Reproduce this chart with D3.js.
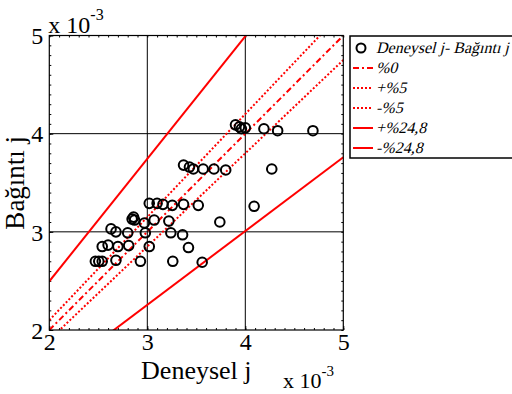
<!DOCTYPE html>
<html>
<head>
<meta charset="utf-8">
<script src="https://cdn.jsdelivr.net/npm/d3@7"></script>
<style>
  body { margin: 0; background: #fff; }
  svg { display: block; }
  text { font-family: "Liberation Serif", "Times New Roman", serif; fill: #000; }
</style>
</head>
<body>
<svg id="chart" width="512" height="394"></svg>
<script>
// Measured j (x) against correlation j (y), both in units of 10^-3
const deneysel = [
  2.47, 2.505, 2.54, 2.68, 2.93, 3.26, 3.56,
  2.54, 2.60, 2.70, 2.81, 3.02, 3.42,
  2.63, 2.68, 2.80, 2.98, 3.24, 3.36,
  2.86, 2.845, 2.87, 2.97, 3.07, 3.22, 3.74,
  3.02, 3.10, 3.16, 3.255, 3.37, 3.52, 4.09,
  3.37, 3.43, 3.47, 3.57, 3.68, 3.80, 4.27,
  3.90, 3.94, 3.96, 4.00, 4.19, 4.33, 4.69
];
const bagintiJ = [
  2.70, 2.70, 2.70, 2.71, 2.70, 2.70, 2.69,
  2.85, 2.865, 2.85, 2.86, 2.85, 2.84,
  3.03, 3.00, 2.99, 2.99, 2.99, 2.97,
  3.15, 3.13, 3.12, 3.09, 3.12, 3.11, 3.10,
  3.29, 3.29, 3.28, 3.27, 3.28, 3.27, 3.26,
  3.68, 3.66, 3.64, 3.64, 3.64, 3.63, 3.64,
  4.09, 4.07, 4.05, 4.06, 4.05, 4.03, 4.03
];
const xTicks = [2, 3, 4, 5];
const yTicks = [2, 3, 4, 5];
const gridValues = [3, 4];

// Reference lines y = k * x
const bandFactors = [1, 1.05, 0.95, 1.248, 0.752];
const bandLabels = ["%0", "+%5", "-%5", "+%24,8", "-%24,8"];
const pointLabel = "Deneysel j- Bağıntı j";

const dashFor = { "%0": "6,3,2,3", "+%5": "2,2", "-%5": "2,2", "+%24,8": null, "-%24,8": null };
const red = "#ff0000";
const serif = "'Liberation Serif', 'Times New Roman', serif";

const svg = d3.select("#chart");
const plot = { left: 49.3, right: 343.3, top: 35.5, bottom: 330 };

const x = d3.scaleLinear().domain([2, 5]).range([plot.left, plot.right]);
const y = d3.scaleLinear().domain([2, 5]).range([plot.bottom, plot.top]);

svg.append("defs").append("clipPath").attr("id", "plot-clip")
  .append("rect")
  .attr("x", plot.left).attr("y", plot.top)
  .attr("width", plot.right - plot.left).attr("height", plot.bottom - plot.top);

// Grid lines
const grid = svg.append("g");
grid.selectAll(".gx").data(gridValues).join("line")
  .attr("x1", d => x(d)).attr("x2", d => x(d))
  .attr("y1", plot.top).attr("y2", plot.bottom)
  .attr("stroke", "#000").attr("stroke-width", 1);
grid.selectAll(".gy").data(gridValues).join("line")
  .attr("y1", d => y(d)).attr("y2", d => y(d))
  .attr("x1", plot.left).attr("x2", plot.right)
  .attr("stroke", "#000").attr("stroke-width", 1);

// Ticks on all four sides, pointing inward
const minor = d3.range(20, 51).map(v => v / 10);
function tickAxis(axis, transform) {
  const g = svg.append("g").attr("transform", transform).call(axis);
  g.select(".domain").remove();
  g.selectAll("line").attr("stroke", "#000").attr("stroke-width", 1);
  return g;
}
tickAxis(d3.axisBottom(x).tickValues(minor).tickSize(-2).tickFormat(""), `translate(0,${plot.bottom})`);
tickAxis(d3.axisTop(x).tickValues(minor).tickSize(-2).tickFormat(""), `translate(0,${plot.top})`);
tickAxis(d3.axisLeft(y).tickValues(minor).tickSize(-2).tickFormat(""), `translate(${plot.left},0)`);
tickAxis(d3.axisRight(y).tickValues(minor).tickSize(-2).tickFormat(""), `translate(${plot.right},0)`);

const xAxis = tickAxis(d3.axisBottom(x).tickValues(xTicks).tickSize(-4).tickPadding(3).tickFormat(d3.format("d")),
  `translate(0,${plot.bottom})`);
xAxis.selectAll("text").attr("font-size", 24).attr("dy", "0.72em")
  .style("font-family", serif);
const yAxis = tickAxis(d3.axisLeft(y).tickValues(yTicks).tickSize(-4).tickPadding(6).tickFormat(d3.format("d")),
  `translate(${plot.left},0)`);
yAxis.selectAll("text").attr("font-size", 24).attr("dy", "0.34em")
  .style("font-family", serif);

// Reference lines, clipped to the axes box
const refLines = svg.append("g").attr("clip-path", "url(#plot-clip)");
const lineGen = d3.line().x(d => x(d[0])).y(d => y(d[1]));
bandFactors.forEach((k, i) => {
  refLines.append("path")
    .attr("d", lineGen([[2, 2 * k], [5, 5 * k]]))
    .attr("fill", "none")
    .attr("stroke", red)
    .attr("stroke-width", 2)
    .attr("stroke-dasharray", dashFor[bandLabels[i]]);
});

// Data points
svg.append("g").selectAll("circle")
  .data(d3.zip(deneysel, bagintiJ))
  .join("circle")
  .attr("cx", d => x(d[0])).attr("cy", d => y(d[1]))
  .attr("r", 4.8)
  .attr("fill", "none").attr("stroke", "#000").attr("stroke-width", 2);

// Axes box
svg.append("rect")
  .attr("x", plot.left).attr("y", plot.top)
  .attr("width", plot.right - plot.left).attr("height", plot.bottom - plot.top)
  .attr("fill", "none").attr("stroke", "#000").attr("stroke-width", 1.2);

// Exponent labels
const expTop = svg.append("text").attr("x", plot.left - 1).attr("y", 33).attr("font-size", 24);
expTop.append("tspan").text("x 10");
expTop.append("tspan").attr("font-size", 16).attr("dy", -13).text("-3");

const expBottom = svg.append("text").attr("x", 283).attr("y", 388).attr("font-size", 22);
expBottom.append("tspan").text("x 10");
expBottom.append("tspan").attr("font-size", 15).attr("dy", -12).text("-3");

// Axis titles
svg.append("text")
  .attr("x", (plot.left + plot.right) / 2).attr("y", 379)
  .attr("text-anchor", "middle").attr("font-size", 26)
  .text("Deneysel j");
svg.append("text")
  .attr("transform", `translate(24,${(plot.top + plot.bottom) / 2}) rotate(-90)`)
  .attr("text-anchor", "middle").attr("font-size", 27)
  .text("Bağıntı j");

// Legend (serif text slanted by a skew so the serif face is kept)
const legend = svg.append("g");
legend.append("rect")
  .attr("x", 350).attr("y", 36).attr("width", 180).attr("height", 122)
  .attr("fill", "#fff").attr("stroke", "#000").attr("stroke-width", 1.5);
const rowY = i => 48 + i * 20;
function legendText(label, row) {
  legend.append("text")
    .attr("transform", `translate(376,${rowY(row) + 5}) skewX(-14)`)
    .attr("font-size", 16).style("font-family", serif)
    .text(label);
}
legend.append("circle").attr("cx", 361).attr("cy", rowY(0)).attr("r", 4.5)
  .attr("fill", "none").attr("stroke", "#000").attr("stroke-width", 2);
legendText(pointLabel, 0);
bandLabels.forEach((lab, i) => {
  legend.append("line")
    .attr("x1", 353).attr("x2", 373).attr("y1", rowY(i + 1)).attr("y2", rowY(i + 1))
    .attr("stroke", red).attr("stroke-width", 2)
    .attr("stroke-dasharray", dashFor[lab]);
  legendText(lab, i + 1);
});
</script>
</body>
</html>
